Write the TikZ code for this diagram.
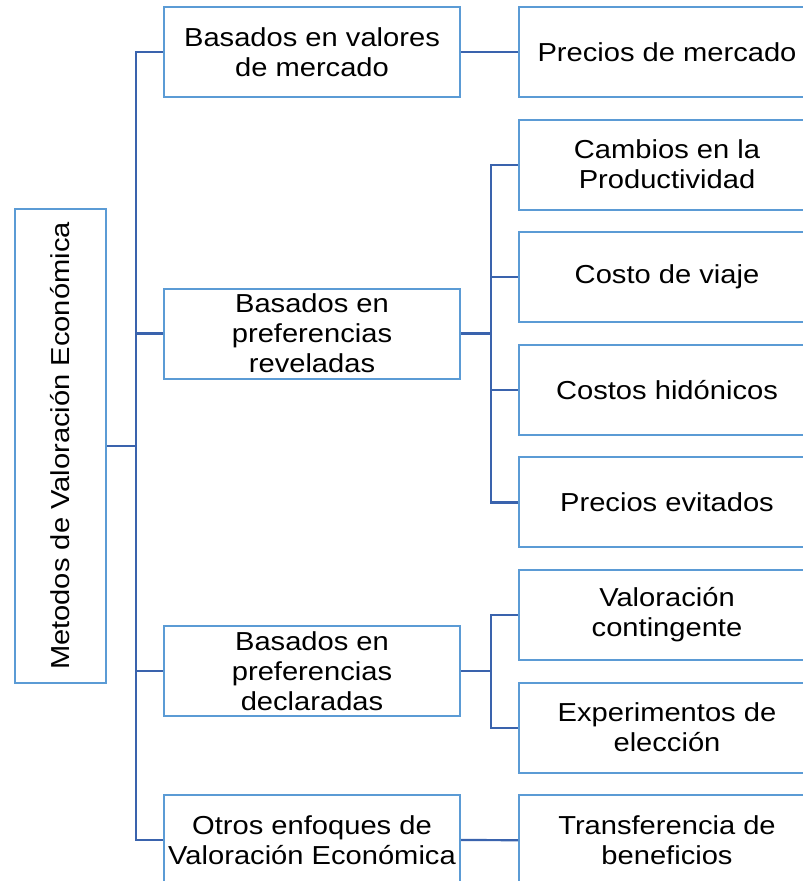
\documentclass[tikz,border=0pt]{standalone}
\usepackage{fontspec}
\setmainfont[FakeStretch=1.12]{Liberation Sans}
\definecolor{boxblue}{HTML}{5B9BD5}
\definecolor{lineblue}{HTML}{3A63AD}

\begin{document}
\begin{tikzpicture}[x=1pt, y=-1pt,
    box/.style={draw=boxblue, line width=2pt, fill=white, align=center, inner sep=0pt,
        font=\fontsize{26}{30}\selectfont, minimum height=90pt},
    first/.style={box, minimum width=296pt},
    leaf/.style={box, minimum width=296pt},
    link/.style={draw=lineblue, line width=2.2pt}]
    \useasboundingbox (0,0) rectangle (803,881);
    \clip (0,0) rectangle (803,881);

    % Root box
    \node[box, minimum width=91pt, minimum height=474pt] (root) at (60.5,446)
        {\rotatebox{90}{Metodos de Valoración Económica}};

    % First level
    \node[first] (mercado) at (312,52) {Basados en valores\\de mercado};
    \node[first] (revel) at (312,333.5) {Basados en\\preferencias\\reveladas};
    \node[first] (decl) at (312,671) {Basados en\\preferencias\\declaradas};
    \node[first] (otros) at (312,840) {Otros enfoques de\\Valoración Económica};

    % Methods
    \foreach \name/\txt [count=\i from 0] in {precios/{Precios de mercado},
        cambios/{Cambios en la\\Productividad}, viaje/{Costo de viaje},
        hidonic/{Costos hidónicos}, evit/{Precios evitados},
        conting/{Valoración\\contingente}, elecc/{Experimentos de\\elección},
        transf/{Transferencia de\\beneficios}} {
        \node[leaf] (\name) at (667, 52+\i*112.6) {\txt};
    }

    % Trunk
    \draw[link] (root.east) -- ++(29,0) coordinate (trunk);
    \foreach \n in {mercado,revel,decl,otros}
        \draw[link] (trunk) |- (\n.west);

    % Branches
    \draw[link] (mercado.east) -- (precios.west);
    \draw[link] (otros.east) -- (transf.west);
    \draw[link] (revel.east) -- ++(30,0) coordinate (revtrunk);
    \foreach \n in {cambios,viaje,hidonic,evit}
        \draw[link] (revtrunk) |- (\n.west);
    \draw[link] (decl.east) -- ++(30,0) coordinate (decltrunk);
    \foreach \n in {conting,elecc}
        \draw[link] (decltrunk) |- (\n.west);
\end{tikzpicture}
\end{document}
